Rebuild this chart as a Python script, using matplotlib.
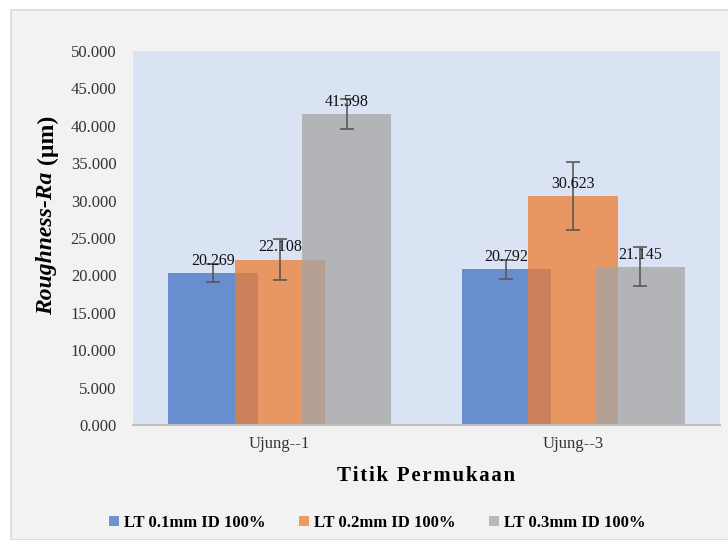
import matplotlib.pyplot as plt
import numpy as np
from matplotlib.patches import Rectangle

plt.rcParams['font.family'] = ['Liberation Serif', 'DejaVu Serif']

# data
kategori = ["Ujung--1", "Ujung--3"]
seri = ["LT 0.1mm ID 100%", "LT 0.2mm ID 100%", "LT 0.3mm ID 100%"]
lt01 = [20.269, 20.792]
lt02 = [22.108, 30.623]
lt03 = [41.598, 21.145]
err01 = [1.2, 1.25]
err02 = [2.75, 4.5]
err03 = [2.0, 2.6]
warna = ["#4472C4", "#ED7D31", "#A5A5A5"]

fig = plt.figure(figsize=(7.28, 5.4), dpi=100)
fig.patch.set_facecolor("white")
# kotak area chart
fig.patches.append(Rectangle((11 / 728, 0), 1, 530 / 540, transform=fig.transFigure,
                             facecolor="#F2F2F2", edgecolor="#D9D9D9", linewidth=1.2,
                             zorder=-10))

ax = fig.add_axes([133 / 728, 115 / 540, 587 / 728, 374 / 540])
ax.set_facecolor("#DAE3F3")

x = np.arange(len(kategori))
lebar = 0.305
langkah = 0.228
for i, (nilai, err, nama) in enumerate(zip([lt01, lt02, lt03], [err01, err02, err03], seri)):
    pos = x + (i - 1) * langkah
    ax.bar(pos, nilai, width=lebar, color=warna[i], alpha=0.75, label=nama, zorder=2)
    ax.errorbar(pos, nilai, yerr=err, fmt="none", ecolor="#595959", elinewidth=1.2,
                capsize=5, capthick=1.2, zorder=4)
    for px, v in zip(pos, nilai):
        ax.annotate(f"{v:.3f}", (px, v), xytext=(0, 3), textcoords="offset points",
                    ha="center", va="bottom", fontsize=11.5, color="#111111", zorder=5)

ax.set_xlim(-0.5, 1.5)
ax.set_ylim(0, 50)
ax.set_yticks(np.arange(0, 50.1, 5))
ax.set_yticklabels([f"{t:.3f}" for t in np.arange(0, 50.1, 5)])
ax.set_xticks(x)
ax.set_xticklabels(kategori)
ax.tick_params(axis="both", length=0, labelsize=12, colors="#333333")
ax.tick_params(axis="y", pad=12)
ax.tick_params(axis="x", pad=8)
for s in ["top", "right", "left"]:
    ax.spines[s].set_visible(False)
ax.spines["bottom"].set_color("#BFBFBF")
ax.spines["bottom"].set_linewidth(1.5)

# judul sumbu x dengan jarak huruf sedikit renggang
judul_x = "Titik Permukaan"
ax.set_xlabel("\u200a".join(judul_x), fontsize=15, fontweight="bold", labelpad=10)

# label sumbu y: bagian miring + satuan
fig.text(47 / 728, 1 - 243 / 540, "Roughness-Ra", rotation=90, ha="center", va="center",
         fontsize=17, fontweight="bold", fontstyle="italic")
fig.text(47 / 728, 1 - 139 / 540, "(µm)", rotation=90, ha="center", va="center",
         fontsize=17, fontweight="bold")

leg = fig.legend(loc="center", bbox_to_anchor=(377 / 728, 1 - 523 / 540), ncol=3,
                 frameon=False, prop={"weight": "bold", "size": 12},
                 handlelength=0.6, handleheight=0.6, handletextpad=0.3, columnspacing=2.0)

plt.savefig("out.png", dpi=100, facecolor=fig.get_facecolor())
